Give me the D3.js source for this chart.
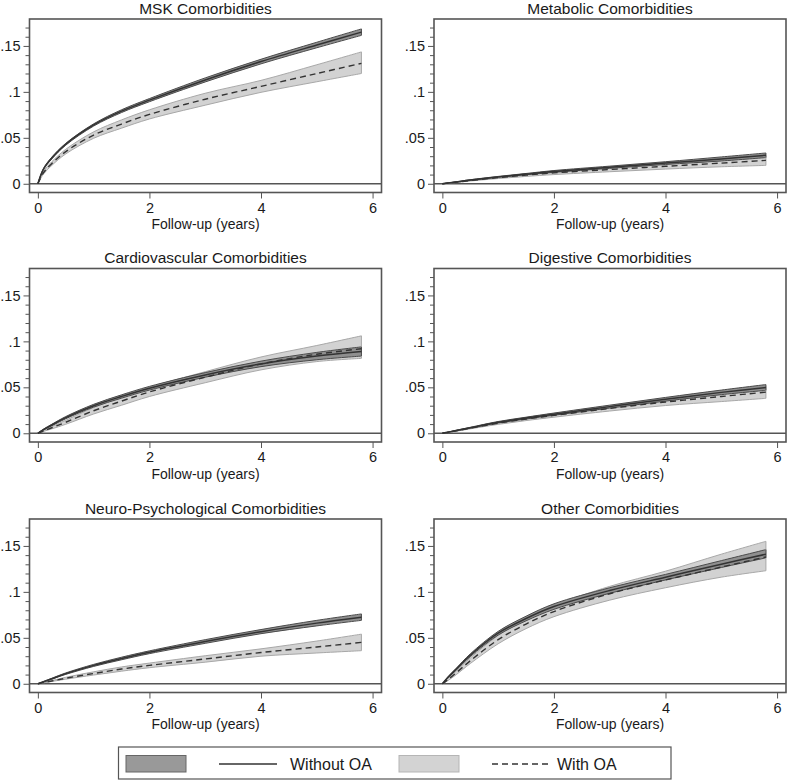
<!DOCTYPE html>
<html>
<head>
<meta charset="utf-8">
<script src="https://cdn.jsdelivr.net/npm/d3@7"></script>
<style>
  html, body { margin: 0; padding: 0; background: #fff; }
  svg { display: block; font-family: "Liberation Sans", Arial, sans-serif; }
</style>
</head>
<body>
<svg id="chart" width="789" height="782"></svg>
<script>
// ---- Data ----
const years = [0, 0.1, 0.25, 0.5, 1, 1.5, 2, 3, 4, 5, 5.8];
const panelTitles = ["MSK Comorbidities", "Metabolic Comorbidities", "Cardiovascular Comorbidities",
                     "Digestive Comorbidities", "Neuro-Psychological Comorbidities", "Other Comorbidities"];
const yTicks = [0, 0.05, 0.1, 0.15];
const yTickLabels = ["0", ".05", ".1", ".15"];
const yMinorTicks = [0.01,0.02,0.03,0.04,0.06,0.07,0.08,0.09,0.11,0.12,0.13,0.14,0.16,0.17];
const xTicks = [0, 2, 4, 6];
const xTitle = "Follow-up (years)";
const legendLabels = ["Without OA", "With OA"];

const mskWithoutEst = [0, 0.016, 0.028, 0.043, 0.064, 0.079, 0.091, 0.113, 0.133, 0.151, 0.165];
const mskWithoutLo  = [0, 0.0155, 0.027, 0.042, 0.0628, 0.0775, 0.0893, 0.1108, 0.1305, 0.148, 0.1615];
const mskWithoutHi  = [0, 0.0165, 0.029, 0.044, 0.0652, 0.0805, 0.0927, 0.1152, 0.1355, 0.154, 0.1685];
const mskWithEst    = [0, 0.012, 0.022, 0.035, 0.053, 0.065, 0.0755, 0.092, 0.106, 0.120, 0.131];
const mskWithLo     = [0, 0.0105, 0.020, 0.0325, 0.0495, 0.0605, 0.0705, 0.0855, 0.0995, 0.111, 0.120];
const mskWithHi     = [0, 0.0135, 0.024, 0.0375, 0.0565, 0.0695, 0.0805, 0.0985, 0.1125, 0.1295, 0.1435];

const metWithoutEst = [0, 0.0008, 0.002, 0.004, 0.0075, 0.0105, 0.0134, 0.018, 0.0225, 0.027, 0.031];
const metWithoutLo  = [0, 0.0007, 0.0018, 0.0036, 0.007, 0.0098, 0.0124, 0.0168, 0.021, 0.0248, 0.0285];
const metWithoutHi  = [0, 0.0009, 0.0022, 0.0044, 0.008, 0.0112, 0.0144, 0.0192, 0.024, 0.0292, 0.0335];
const metWithEst    = [0, 0.0007, 0.0018, 0.0035, 0.0067, 0.0094, 0.0118, 0.0155, 0.019, 0.0225, 0.0255];
const metWithLo     = [0, 0.0006, 0.0015, 0.003, 0.0057, 0.008, 0.010, 0.0131, 0.016, 0.0185, 0.020];
const metWithHi     = [0, 0.0008, 0.0021, 0.004, 0.0077, 0.0108, 0.0138, 0.018, 0.0222, 0.0268, 0.031];

const cvdWithoutEst = [0, 0.004, 0.009, 0.017, 0.030, 0.040, 0.049, 0.0635, 0.0755, 0.084, 0.089];
const cvdWithoutLo  = [0, 0.0035, 0.0082, 0.0158, 0.0285, 0.0382, 0.047, 0.061, 0.0725, 0.080, 0.084];
const cvdWithoutHi  = [0, 0.0045, 0.0098, 0.0182, 0.0315, 0.0418, 0.051, 0.066, 0.0785, 0.088, 0.094];
const cvdWithEst    = [0, 0.0025, 0.006, 0.012, 0.0245, 0.035, 0.045, 0.061, 0.0755, 0.086, 0.092];
const cvdWithLo     = [0, 0.002, 0.0048, 0.0098, 0.021, 0.0305, 0.040, 0.055, 0.069, 0.078, 0.0815];
const cvdWithHi     = [0, 0.003, 0.0072, 0.0142, 0.028, 0.0395, 0.050, 0.067, 0.083, 0.0955, 0.106];

const digWithoutEst = [0, 0.0012, 0.003, 0.006, 0.012, 0.0165, 0.0208, 0.029, 0.037, 0.0445, 0.0497];
const digWithoutLo  = [0, 0.0011, 0.0027, 0.0055, 0.0112, 0.0155, 0.0196, 0.0274, 0.035, 0.042, 0.0467];
const digWithoutHi  = [0, 0.0013, 0.0033, 0.0065, 0.0128, 0.0175, 0.022, 0.0306, 0.039, 0.047, 0.053];
const digWithEst    = [0, 0.001, 0.0027, 0.0055, 0.011, 0.0155, 0.0195, 0.027, 0.034, 0.040, 0.0448];
const digWithLo     = [0, 0.0009, 0.0023, 0.0048, 0.0097, 0.0138, 0.0175, 0.0242, 0.0302, 0.0345, 0.038];
const digWithHi     = [0, 0.0011, 0.0031, 0.0062, 0.0123, 0.0172, 0.0215, 0.0298, 0.0378, 0.0455, 0.051];

const neuWithoutEst = [0, 0.0022, 0.0055, 0.011, 0.020, 0.0275, 0.0343, 0.046, 0.0567, 0.066, 0.0725];
const neuWithoutLo  = [0, 0.002, 0.005, 0.0102, 0.0189, 0.0261, 0.0328, 0.044, 0.0545, 0.063, 0.069];
const neuWithoutHi  = [0, 0.0024, 0.006, 0.0118, 0.0211, 0.0289, 0.0358, 0.048, 0.059, 0.069, 0.076];
const neuWithEst    = [0, 0.0012, 0.003, 0.006, 0.0112, 0.016, 0.020, 0.027, 0.034, 0.040, 0.045];
const neuWithLo     = [0, 0.001, 0.0025, 0.005, 0.0095, 0.0137, 0.0175, 0.0235, 0.030, 0.0335, 0.036];
const neuWithHi     = [0, 0.0014, 0.0035, 0.007, 0.013, 0.0183, 0.0225, 0.0305, 0.038, 0.0465, 0.054];

const othWithoutEst = [0, 0.007, 0.016, 0.031, 0.055, 0.071, 0.084, 0.1015, 0.116, 0.130, 0.141];
const othWithoutLo  = [0, 0.0065, 0.015, 0.0295, 0.053, 0.0685, 0.081, 0.0985, 0.113, 0.1265, 0.137];
const othWithoutHi  = [0, 0.0075, 0.017, 0.0325, 0.057, 0.0735, 0.087, 0.1045, 0.119, 0.134, 0.146];
const othWithEst    = [0, 0.0045, 0.012, 0.025, 0.048, 0.065, 0.0786, 0.098, 0.113, 0.127, 0.138];
const othWithLo     = [0, 0.0035, 0.010, 0.022, 0.0435, 0.060, 0.073, 0.091, 0.1045, 0.116, 0.123];
const othWithHi     = [0, 0.0055, 0.014, 0.028, 0.0525, 0.070, 0.085, 0.106, 0.1225, 0.141, 0.155];

const panels = [
  { title: panelTitles[0], wo: [mskWithoutEst, mskWithoutLo, mskWithoutHi], wi: [mskWithEst, mskWithLo, mskWithHi] },
  { title: panelTitles[1], wo: [metWithoutEst, metWithoutLo, metWithoutHi], wi: [metWithEst, metWithLo, metWithHi] },
  { title: panelTitles[2], wo: [cvdWithoutEst, cvdWithoutLo, cvdWithoutHi], wi: [cvdWithEst, cvdWithLo, cvdWithHi] },
  { title: panelTitles[3], wo: [digWithoutEst, digWithoutLo, digWithoutHi], wi: [digWithEst, digWithLo, digWithHi] },
  { title: panelTitles[4], wo: [neuWithoutEst, neuWithoutLo, neuWithoutHi], wi: [neuWithEst, neuWithLo, neuWithHi] },
  { title: panelTitles[5], wo: [othWithoutEst, othWithoutLo, othWithoutHi], wi: [othWithEst, othWithLo, othWithHi] }
];

// ---- Layout ----
const colLeft = [29.5, 434];
const frameW = 352;
const rowTop = [19, 268.5, 519];
const frameH = 173.5;

const C = {
  frame: "#555",
  darkFill: "#8f8f8f", darkEdge: "#4a4a4a",
  lightFill: "#d2d2d2", lightEdge: "#a8a8a8",
  line: "#333", text: "#1a1a1a"
};
const FONT = '"Liberation Sans", Arial, sans-serif';
const curve = d3.curveCatmullRom.alpha(0.5);

const svg = d3.select("#chart");

panels.forEach((p, i) => {
  const col = i % 2, row = Math.floor(i / 2);
  const x0 = colLeft[col], y0 = rowTop[row];
  const x = d3.scaleLinear().domain([-0.15, 6.16]).range([x0, x0 + frameW]);
  const y = d3.scaleLinear().domain([-0.0095, 0.1793]).range([y0 + frameH, y0]);
  const g = svg.append("g");

  const toPts = (est, lo, hi) => years.map((t, k) => ({ t, e: est[k], l: lo[k], h: hi[k] }));
  const wo = toPts(...p.wo), wi = toPts(...p.wi);
  const area = d3.area().x(d => x(d.t)).y0(d => y(d.l)).y1(d => y(d.h)).curve(curve);
  const lineLo = d3.line().x(d => x(d.t)).y(d => y(d.l)).curve(curve);
  const lineHi = d3.line().x(d => x(d.t)).y(d => y(d.h)).curve(curve);
  const lineE = d3.line().x(d => x(d.t)).y(d => y(d.e)).curve(curve);

  // zero line
  g.append("line").attr("x1", x0).attr("x2", x0 + frameW)
    .attr("y1", y(0)).attr("y2", y(0)).attr("stroke", C.frame).attr("stroke-width", 1.6);

  // light band (with OA)
  g.append("path").datum(wi).attr("d", area).attr("fill", C.lightFill);
  [lineLo, lineHi].forEach(fn => g.append("path").datum(wi).attr("d", fn)
    .attr("fill", "none").attr("stroke", C.lightEdge).attr("stroke-width", 1));
  // dark band (without OA)
  g.append("path").datum(wo).attr("d", area).attr("fill", C.darkFill);
  [lineLo, lineHi].forEach(fn => g.append("path").datum(wo).attr("d", fn)
    .attr("fill", "none").attr("stroke", C.darkEdge).attr("stroke-width", 1));
  // end caps of bands
  const endW = wo[wo.length - 1], endI = wi[wi.length - 1];
  g.append("line").attr("x1", x(endI.t)).attr("x2", x(endI.t)).attr("y1", y(endI.l)).attr("y2", y(endI.h))
    .attr("stroke", C.lightEdge).attr("stroke-width", 1);
  g.append("line").attr("x1", x(endW.t)).attr("x2", x(endW.t)).attr("y1", y(endW.l)).attr("y2", y(endW.h))
    .attr("stroke", C.darkEdge).attr("stroke-width", 1);

  // lines
  g.append("path").datum(wo).attr("d", lineE).attr("fill", "none")
    .attr("stroke", C.line).attr("stroke-width", 1.5);
  g.append("path").datum(wi).attr("d", lineE).attr("fill", "none")
    .attr("stroke", C.line).attr("stroke-width", 1.4).attr("stroke-dasharray", "6,4");

  // frame
  g.append("rect").attr("x", x0).attr("y", y0).attr("width", frameW).attr("height", frameH)
    .attr("fill", "none").attr("stroke", C.frame).attr("stroke-width", 1.6);

  // y axis
  const yAxis = d3.axisLeft(y).tickValues(yTicks).tickFormat((d, k) => yTickLabels[k]).tickSize(6).tickPadding(3);
  const ya = g.append("g").attr("transform", `translate(${x0},0)`).call(yAxis);
  ya.select(".domain").remove();
  ya.selectAll("line").attr("stroke", C.frame).attr("stroke-width", 1);
  ya.selectAll("text").attr("font-size", 14.5).attr("fill", C.text).attr("font-family", FONT);
  const yMinor = d3.axisLeft(y).tickValues(yMinorTicks).tickFormat("").tickSize(4);
  const ym = g.append("g").attr("transform", `translate(${x0},0)`).call(yMinor);
  ym.select(".domain").remove();
  ym.selectAll("line").attr("stroke", C.frame).attr("stroke-width", 1);

  // x axis
  const xAxis = d3.axisBottom(x).tickValues(xTicks).tickFormat(d3.format("d")).tickSize(6).tickPadding(4);
  const xa = g.append("g").attr("transform", `translate(0,${y0 + frameH})`).call(xAxis);
  xa.select(".domain").remove();
  xa.selectAll("line").attr("stroke", C.frame).attr("stroke-width", 1);
  xa.selectAll("text").attr("font-size", 14.5).attr("fill", C.text).attr("font-family", FONT);

  // axis title
  g.append("text").attr("x", x0 + frameW / 2).attr("y", y0 + frameH + 36.5)
    .attr("text-anchor", "middle").attr("font-size", 14).attr("fill", C.text).text(xTitle);
  // panel title
  g.append("text").attr("x", x0 + frameW / 2).attr("y", y0 - 5.5)
    .attr("text-anchor", "middle").attr("font-size", 15.5).attr("fill", C.text).text(p.title);
});

// ---- Legend ----
const lg = svg.append("g");
lg.append("rect").attr("x", 118.5).attr("y", 747).attr("width", 552.5).attr("height", 32)
  .attr("fill", "#fff").attr("stroke", C.frame).attr("stroke-width", 1.2);
lg.append("rect").attr("x", 126).attr("y", 755.5).attr("width", 60).attr("height", 16.5)
  .attr("fill", "#999").attr("stroke", "#666").attr("stroke-width", 1);
lg.append("line").attr("x1", 219).attr("x2", 277).attr("y1", 764).attr("y2", 764)
  .attr("stroke", C.line).attr("stroke-width", 1.5);
lg.append("text").attr("x", 290).attr("y", 769.5).attr("font-size", 16).attr("fill", C.text).text(legendLabels[0]);
lg.append("rect").attr("x", 399).attr("y", 755.5).attr("width", 60).attr("height", 16.5)
  .attr("fill", "#d3d3d3").attr("stroke", "#b5b5b5").attr("stroke-width", 1);
lg.append("line").attr("x1", 492).attr("x2", 548).attr("y1", 764).attr("y2", 764)
  .attr("stroke", C.line).attr("stroke-width", 1.4).attr("stroke-dasharray", "6,4");
lg.append("text").attr("x", 557).attr("y", 769.5).attr("font-size", 16).attr("fill", C.text).text(legendLabels[1]);
</script>
</body>
</html>
